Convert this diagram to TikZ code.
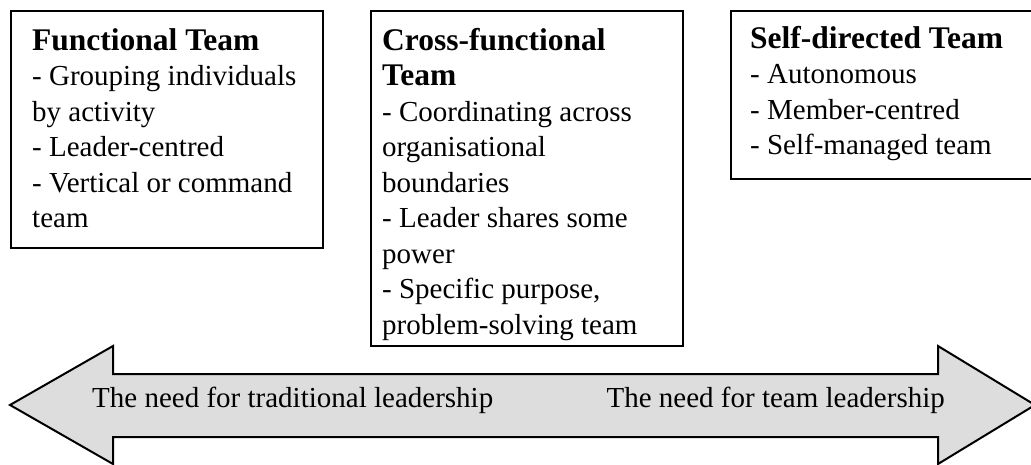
\documentclass[tikz,border=0pt]{standalone}
\usepackage{fontspec}
\setmainfont{Liberation Serif}
\usepackage{xcolor}
\usepackage{tikz}
\usetikzlibrary{positioning}

\definecolor{arrowgrey}{HTML}{DDDDDD}

\tikzset{
  teambox/.style={draw, line width=2pt, inner sep=0pt, anchor=north west,
    minimum width=312pt},
  teamtext/.style={anchor=base west, inner sep=0pt, text width=300pt, align=flush left,
    font=\fontsize{29}{35.5}\selectfont},
  needtext/.style={inner sep=0pt, font=\fontsize{29}{35}\selectfont},
}

\newcommand{\teamhead}[1]{{\fontsize{31.5}{35.5}\selectfont\bfseries #1\par}}

\begin{document}
\begin{tikzpicture}[x=1pt, y=-1pt]
        \useasboundingbox (0,0) rectangle (1031,464);
        \clip (0,0) rectangle (1031,464);

        % Draw the three team boxes
        \node[teambox, minimum height=237pt] (functional) at (10,10) {};
        \node[teambox, minimum height=335pt] (crossfunc) at (370,10) {};
        \node[teambox, minimum height=168pt, minimum width=340pt] (selfdir) at (730,10) {};

        % Fill in the box texts
        \node[teamtext] (functionaltext) at (32,50) {\teamhead{Functional Team}
          - Grouping individuals\\ by activity\\ - Leader-centred\\
          - Vertical or command\\ team};
        \node[teamtext] (crossfunctext) at (382,50) {\teamhead{Cross-functional\\ Team}
          - Coordinating across\\ organisational\\ boundaries\\
          - Leader shares some\\ power\\ - Specific purpose,\\ problem-solving team};
        \node[teamtext] (selfdirtext) at (750,48) {\teamhead{Self-directed Team}
          - Autonomous\\ - Member-centred\\ - Self-managed team};

        % Draw the double-headed arrow along the bottom
        \draw[line width=2pt, line join=miter, fill=arrowgrey]
          (10,405) -- (113,346) -- (113,374) -- (938,374) -- (938,346) -- (1035,405)
          -- (938,464) -- (938,437) -- (113,437) -- (113,464) -- cycle;

        % Label both ends of the arrow
        \node[needtext, anchor=base west] (traditional) at (92,407) {The need for traditional leadership};
        \node[needtext, anchor=base east] (teamlead) at (945,407) {The need for team leadership};

    \end{tikzpicture}
\end{document}
